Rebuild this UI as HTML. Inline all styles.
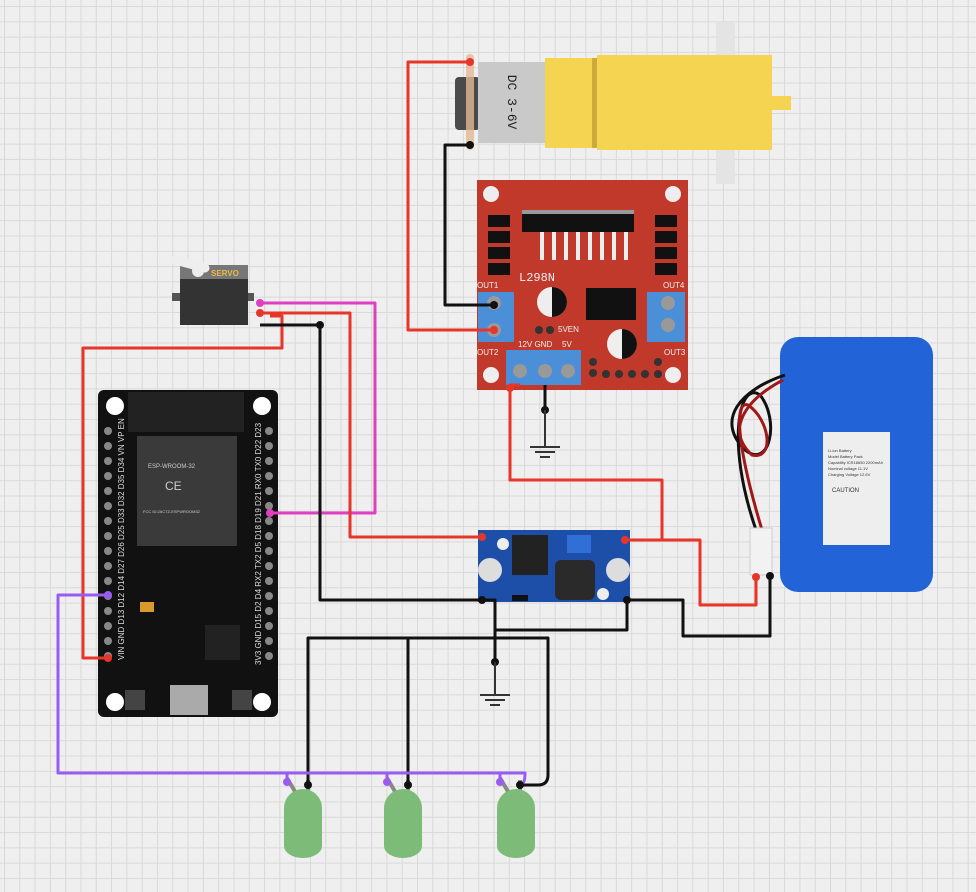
<!DOCTYPE html>
<html><head><meta charset="utf-8"><style>
html,body{margin:0;padding:0;}
body{width:976px;height:892px;overflow:hidden;background:#efefef;
background-image:linear-gradient(#d9d9d9 1px,transparent 1px),linear-gradient(90deg,#d9d9d9 1px,transparent 1px);
background-size:15.3px 15.3px;background-position:4px 6px;font-family:"Liberation Sans",sans-serif;}
svg{position:absolute;left:0;top:0;}
</style></head><body>
<svg width="976" height="892" viewBox="0 0 976 892" xmlns="http://www.w3.org/2000/svg">
<!-- Motor -->
<rect x="716" y="22" width="19" height="162" fill="#e4e4e4"/>
<rect x="455" y="77" width="25" height="53" rx="4" fill="#4a4a4a"/>
<rect x="478" y="62" width="68" height="81" fill="#c9c9c9"/>
<rect x="545" y="58" width="52" height="90" fill="#f5d452"/>
<rect x="592" y="58" width="5" height="90" fill="#cfaa3a"/>
<rect x="597" y="55" width="175" height="95" fill="#f5d452"/>
<rect x="772" y="96" width="19" height="14" fill="#f5d452"/>
<text x="0" y="0" transform="translate(508,102) rotate(90)" font-size="13" text-anchor="middle" fill="#222" font-family="Liberation Mono,monospace">DC 3-6V</text>
<rect x="466" y="54" width="8" height="96" rx="4" fill="#e2b893" opacity=".8"/>

<!-- L298N -->
<rect x="477" y="180" width="211" height="210" fill="#c0392b"/>
<circle cx="491" cy="194" r="8" fill="#eee"/><circle cx="673" cy="194" r="8" fill="#eee"/>
<circle cx="491" cy="375" r="8" fill="#eee"/><circle cx="673" cy="375" r="8" fill="#eee"/>
<rect x="522" y="214" width="112" height="18" fill="#111"/>
<rect x="522" y="210" width="112" height="4" fill="#999"/>
<g fill="#eee"><rect x="540" y="232" width="4" height="28"/><rect x="552" y="232" width="4" height="28"/><rect x="564" y="232" width="4" height="28"/><rect x="576" y="232" width="4" height="28"/><rect x="588" y="232" width="4" height="28"/><rect x="600" y="232" width="4" height="28"/><rect x="612" y="232" width="4" height="28"/><rect x="624" y="232" width="4" height="28"/></g>
<g fill="#111"><rect x="488" y="215" width="22" height="12"/><rect x="488" y="231" width="22" height="12"/><rect x="488" y="247" width="22" height="12"/><rect x="488" y="263" width="22" height="12"/>
<rect x="655" y="215" width="22" height="12"/><rect x="655" y="231" width="22" height="12"/><rect x="655" y="247" width="22" height="12"/><rect x="655" y="263" width="22" height="12"/></g>
<text x="519" y="281" font-size="12" fill="#eee" font-family="Liberation Mono,monospace">L298N</text>
<circle cx="552" cy="302" r="15" fill="#eee"/><path d="M552 287 a15 15 0 0 1 0 30z" fill="#111"/>
<rect x="586" y="288" width="50" height="32" fill="#111"/>
<circle cx="622" cy="344" r="15" fill="#eee"/><path d="M622 329 a15 15 0 0 1 0 30z" fill="#111"/>
<rect x="478" y="292" width="36" height="50" fill="#4a8fd8"/>
<circle cx="494" cy="303" r="7" fill="#999"/><circle cx="494" cy="330" r="7" fill="#999"/>
<rect x="647" y="292" width="38" height="50" fill="#4a8fd8"/>
<circle cx="668" cy="303" r="7" fill="#999"/><circle cx="668" cy="325" r="7" fill="#999"/>
<rect x="506" y="350" width="75" height="35" fill="#4a8fd8"/>
<circle cx="520" cy="371" r="7" fill="#999"/><circle cx="545" cy="371" r="7" fill="#999"/><circle cx="568" cy="371" r="7" fill="#999"/>
<g font-size="8" fill="#eee"><text x="477" y="288">OUT1</text><text x="663" y="288">OUT4</text><text x="477" y="355">OUT2</text><text x="664" y="355">OUT3</text><text x="518" y="347">12V GND</text><text x="562" y="347">5V</text><text x="558" y="332">5VEN</text></g>
<g fill="#333"><circle cx="539" cy="330" r="4"/><circle cx="550" cy="330" r="4"/><circle cx="593" cy="373" r="4"/><circle cx="606" cy="374" r="4"/><circle cx="619" cy="374" r="4"/><circle cx="632" cy="374" r="4"/><circle cx="645" cy="374" r="4"/><circle cx="658" cy="374" r="4"/><circle cx="593" cy="362" r="4"/><circle cx="658" cy="362" r="4"/></g>

<!-- Servo -->
<rect x="172" y="293" width="82" height="8" fill="#555"/>
<rect x="180" y="272" width="68" height="53" fill="#333"/>
<rect x="180" y="265" width="68" height="14" fill="#777"/>
<path d="M175 260 L205 268" stroke="#eee" stroke-width="9" stroke-linecap="round"/>
<circle cx="198" cy="271" r="6" fill="#eee"/>
<text x="211" y="276" font-size="8" fill="#e8b84a" font-weight="bold">SERVO</text>

<!-- ESP32 -->
<rect x="98" y="390" width="180" height="327" rx="6" fill="#111"/>
<rect x="128" y="392" width="116" height="40" fill="#222"/>
<rect x="137" y="436" width="100" height="110" fill="#3a3a3a"/>
<circle cx="115" cy="406" r="9" fill="#fff"/><circle cx="262" cy="406" r="9" fill="#fff"/>
<circle cx="115" cy="702" r="9" fill="#fff"/><circle cx="262" cy="702" r="9" fill="#fff"/>
<text x="148" y="468" font-size="6" fill="#ccc">ESP-WROOM-32</text>
<text x="165" y="490" font-size="12" fill="#ccc">CE</text>
<text x="143" y="513" font-size="4" fill="#ccc">FCC ID:2AC7Z-ESPWROOM32</text>
<g fill="#888">
<circle cx="108" cy="431" r="4"/><circle cx="108" cy="446" r="4"/><circle cx="108" cy="461" r="4"/><circle cx="108" cy="476" r="4"/><circle cx="108" cy="491" r="4"/><circle cx="108" cy="506" r="4"/><circle cx="108" cy="521" r="4"/><circle cx="108" cy="536" r="4"/><circle cx="108" cy="551" r="4"/><circle cx="108" cy="566" r="4"/><circle cx="108" cy="581" r="4"/><circle cx="108" cy="596" r="4"/><circle cx="108" cy="611" r="4"/><circle cx="108" cy="626" r="4"/><circle cx="108" cy="641" r="4"/><circle cx="108" cy="656" r="4"/>
<circle cx="269" cy="431" r="4"/><circle cx="269" cy="446" r="4"/><circle cx="269" cy="461" r="4"/><circle cx="269" cy="476" r="4"/><circle cx="269" cy="491" r="4"/><circle cx="269" cy="506" r="4"/><circle cx="269" cy="521" r="4"/><circle cx="269" cy="536" r="4"/><circle cx="269" cy="551" r="4"/><circle cx="269" cy="566" r="4"/><circle cx="269" cy="581" r="4"/><circle cx="269" cy="596" r="4"/><circle cx="269" cy="611" r="4"/><circle cx="269" cy="626" r="4"/><circle cx="269" cy="641" r="4"/><circle cx="269" cy="656" r="4"/></g>
<text transform="translate(124,660) rotate(-90)" font-size="8" fill="#ddd">VIN GND D13 D12 D14 D27 D26 D25 D33 D32 D35 D34 VN VP EN</text>
<text transform="translate(261,665) rotate(-90)" font-size="8" fill="#ddd">3V3 GND D15 D2 D4 RX2 TX2 D5 D18 D19 D21 RX0 TX0 D22 D23</text>
<rect x="140" y="602" width="14" height="10" fill="#d99a2b"/>
<rect x="205" y="625" width="35" height="35" fill="#222"/>
<rect x="170" y="685" width="38" height="30" fill="#aaa"/>
<rect x="125" y="690" width="20" height="20" fill="#444"/><rect x="232" y="690" width="20" height="20" fill="#444"/>

<!-- Buck -->
<rect x="478" y="530" width="152" height="72" fill="#1e4fa8"/>
<rect x="512" y="535" width="36" height="40" fill="#222"/>
<circle cx="490" cy="570" r="12" fill="#ddd"/><circle cx="618" cy="570" r="12" fill="#ddd"/>
<rect x="555" y="560" width="40" height="40" rx="6" fill="#2a2a2a"/>
<rect x="567" y="535" width="24" height="18" fill="#2f6fd6"/>
<circle cx="503" cy="544" r="6" fill="#eee"/><circle cx="603" cy="594" r="6" fill="#eee"/>
<rect x="512" y="595" width="16" height="6" fill="#111"/>

<!-- Battery -->
<rect x="780" y="337" width="153" height="255" rx="18" fill="#2264d8"/>
<rect x="823" y="432" width="67" height="113" fill="#eee"/>
<g font-size="4" fill="#333"><text x="828" y="452">Li-ion Battery</text><text x="828" y="458">Model Battery Pack</text><text x="828" y="464">Capability ICR18650 2200mAh</text><text x="828" y="470">Nominal voltage 11.1V</text><text x="828" y="476">Charging Voltage 12.6V</text><text x="832" y="492" font-size="6">CAUTION</text></g>
<path d="M785 375 C740 390 715 420 745 450 C770 470 780 420 760 395 C740 380 725 440 756 530" stroke="#111" stroke-width="3" fill="none"/>
<path d="M783 380 C745 400 725 430 752 455 C775 460 770 420 748 405 C735 400 735 440 762 530" stroke="#a01818" stroke-width="3" fill="none"/>
<rect x="750" y="528" width="22" height="47" fill="#f2f2f2" stroke="#ccc"/>

<!-- LEDs -->
<g>
<path d="M287 778 L300 800" stroke="#888" stroke-width="4"/><path d="M308 780 L308 800" stroke="#888" stroke-width="4"/>
<path d="M284 808 a19 19 0 0 1 38 0 v38 a19 12 0 0 1 -38 0z" fill="#7dbb78"/>
<path d="M387 778 L400 800" stroke="#888" stroke-width="4"/><path d="M408 780 L408 800" stroke="#888" stroke-width="4"/>
<path d="M384 808 a19 19 0 0 1 38 0 v38 a19 12 0 0 1 -38 0z" fill="#7dbb78"/>
<path d="M500 778 L513 800" stroke="#888" stroke-width="4"/><path d="M520 780 L520 800" stroke="#888" stroke-width="4"/>
<path d="M497 808 a19 19 0 0 1 38 0 v38 a19 12 0 0 1 -38 0z" fill="#7dbb78"/>
</g>

<!-- Wires -->
<g fill="none" stroke-width="3" stroke-linejoin="round">
<path d="M470 62 H408 V330 H494" stroke="#e8352a"/>
<path d="M470 145 H445 V305 H494" stroke="#111"/>
<path d="M260 303 H375 V513 H270" stroke="#e040c0"/>
<path d="M260 313 H350 V537 H482" stroke="#e8352a"/>
<path d="M270 316 H282 V348 H83 V658 H108" stroke="#e8352a"/>
<path d="M260 325 H320 V600 H482 H495 V662" stroke="#111"/>
<path d="M308 785 V638 H548 V775 Q548 785 538 785 H520" stroke="#111"/>
<path d="M408 785 V638" stroke="#111"/>
<path d="M627 600 V630 H495" stroke="#111"/>
<path d="M520 385 H510 V480 H662 V540 H625" stroke="#e8352a"/>
<path d="M625 540 H700 V605 H756 V577" stroke="#e8352a"/>
<path d="M627 600 H683 V636 H770 V576" stroke="#111"/>
<path d="M545 385 V410" stroke="#111"/>
<path d="M108 595 H58 V773 H525 Q525 785 520 785" stroke="#9a5cf0"/>
<path d="M287 773 V782 M387 773 V782 M500 773 V782" stroke="#9a5cf0"/>
</g>
<g fill="#111"><circle cx="470" cy="145" r="4"/><circle cx="494" cy="305" r="4"/><circle cx="320" cy="325" r="4"/><circle cx="482" cy="600" r="4"/><circle cx="627" cy="600" r="4"/><circle cx="770" cy="576" r="4"/><circle cx="545" cy="410" r="4"/><circle cx="495" cy="662" r="4"/><circle cx="308" cy="785" r="4"/><circle cx="408" cy="785" r="4"/><circle cx="520" cy="785" r="4"/></g>
<g fill="#e8352a"><circle cx="470" cy="62" r="4"/><circle cx="494" cy="330" r="4"/><circle cx="260" cy="313" r="4"/><circle cx="482" cy="537" r="4"/><circle cx="625" cy="540" r="4"/><circle cx="756" cy="577" r="4"/><circle cx="108" cy="658" r="4"/><circle cx="510" cy="388" r="4"/></g>
<g fill="#e040c0"><circle cx="260" cy="303" r="4"/><circle cx="270" cy="513" r="4"/></g>
<g fill="#9a5cf0"><circle cx="108" cy="595" r="4"/><circle cx="287" cy="782" r="4"/><circle cx="387" cy="782" r="4"/><circle cx="500" cy="782" r="4"/></g>
<!-- Grounds -->
<g stroke="#333" stroke-width="2"><path d="M545 410 V447 M530 447 H560 M535 452 H555 M540 457 H550"/>
<path d="M495 662 V695 M480 695 H510 M485 700 H505 M490 705 H500"/></g>
</svg>
</body></html>
